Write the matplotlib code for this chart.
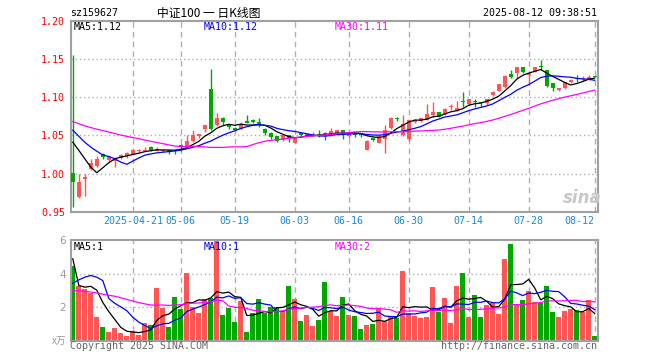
import numpy as np
import pandas as pd
import matplotlib
matplotlib.use('Agg')
import matplotlib.pyplot as plt

plt.rcParams['font.family'] = ['DejaVu Sans Mono', 'Noto Sans CJK SC']

# trading days shown (holidays removed)
holidays = ['2025-05-01', '2025-05-02', '2025-05-05', '2025-06-02']
days = pd.bdate_range('2025-04-07', '2025-08-12')
days = days[~days.isin(pd.to_datetime(holidays))]

tick_dates = ['2025-04-21', '2025-05-06', '2025-05-19', '2025-06-03', '2025-06-16',
              '2025-06-30', '2025-07-14', '2025-07-28', '2025-08-12']

opens = [1.001, 0.969, 0.9925, 1.0057, 1.0096, 1.0259, 1.0171, 1.0162, 1.0207, 1.0224,
         1.025, 1.029, 1.030, 1.0342, 1.0293, 1.0293, 1.0305, 1.031, 1.0378, 1.0346,
         1.042, 1.0496, 1.058, 1.1105, 1.0632, 1.0724, 1.0645, 1.0601, 1.0588, 1.0675,
         1.0701, 1.068, 1.0588, 1.053, 1.0487, 1.0443, 1.05, 1.0404, 1.0526, 1.050,
         1.0504, 1.0517, 1.0526, 1.0504, 1.0513, 1.0566, 1.0487, 1.0513, 1.0513, 1.0312,
         1.0465, 1.04, 1.0451, 1.0596, 1.072, 1.05, 1.0447, 1.0671, 1.0688, 1.0706,
         1.0763, 1.0799, 1.0776, 1.0864, 1.082, 1.0942, 1.0904, 1.0945, 1.0934, 1.0917,
         1.1026, 1.1079, 1.1128, 1.1303, 1.1312, 1.1391, 1.129, 1.1333, 1.1405, 1.1355,
         1.118, 1.1092, 1.1114, 1.1201, 1.125, 1.1235, 1.1237, 1.127]
highs = [1.155, 0.9996, 0.9996, 1.0184, 1.0224, 1.0265, 1.0232, 1.021, 1.0255, 1.0276,
         1.0325, 1.032, 1.0346, 1.036, 1.035, 1.032, 1.031, 1.0325, 1.038, 1.05,
         1.0566, 1.0513, 1.0632, 1.1368, 1.0793, 1.0738, 1.0654, 1.0605, 1.067, 1.0763,
         1.0715, 1.072, 1.059, 1.054, 1.049, 1.052, 1.051, 1.047, 1.053, 1.0535,
         1.0545, 1.0566, 1.054, 1.0595, 1.057, 1.057, 1.0535, 1.0517, 1.0517, 1.0434,
         1.047, 1.0505, 1.0632, 1.0733, 1.0741, 1.0772, 1.0705, 1.0715, 1.0728, 1.0908,
         1.0934, 1.0805, 1.0855, 1.0908, 1.0947, 1.1066, 1.0975, 1.097, 1.0938, 1.0975,
         1.108, 1.1175, 1.1283, 1.1355, 1.1395, 1.1395, 1.1316, 1.14, 1.1487, 1.136,
         1.119, 1.112, 1.12, 1.1235, 1.1285, 1.127, 1.1285, 1.127]
lows = [0.956, 0.9675, 0.970, 1.0048, 1.0083, 1.019, 1.0145, 1.0083, 1.019, 1.0197,
        1.0237, 1.028, 1.029, 1.029, 1.029, 1.0285, 1.025, 1.026, 1.030, 1.0333,
        1.0408, 1.046, 1.0543, 1.0575, 1.0625, 1.0632, 1.058, 1.0566, 1.0585, 1.066,
        1.066, 1.061, 1.0504, 1.0447, 1.0408, 1.0425, 1.041, 1.040, 1.049, 1.049,
        1.0495, 1.048, 1.0438, 1.049, 1.051, 1.045, 1.046, 1.0478, 1.0478, 1.031,
        1.0421, 1.0395, 1.0267, 1.0583, 1.0684, 1.0487, 1.043, 1.0658, 1.068, 1.0697,
        1.0741, 1.0735, 1.0768, 1.0829, 1.0816, 1.0872, 1.0895, 1.0872, 1.0872, 1.0895,
        1.1015, 1.1075, 1.112, 1.1255, 1.1255, 1.1316, 1.118, 1.1325, 1.1355, 1.113,
        1.1075, 1.108, 1.111, 1.119, 1.120, 1.121, 1.1225, 1.1262]
closes = [0.989, 0.9895, 0.995, 1.0132, 1.0184, 1.0215, 1.0224, 1.0207, 1.0241, 1.0263,
          1.0312, 1.0305, 1.031, 1.0303, 1.032, 1.0303, 1.030, 1.0295, 1.036, 1.0425,
          1.051, 1.0513, 1.0632, 1.0583, 1.072, 1.0675, 1.061, 1.0566, 1.0654, 1.0667,
          1.0675, 1.063, 1.053, 1.0478, 1.0425, 1.051, 1.047, 1.0465, 1.0504, 1.0513,
          1.0517, 1.0508, 1.0504, 1.0553, 1.0566, 1.051, 1.053, 1.0508, 1.0504, 1.0421,
          1.0434, 1.0487, 1.0575, 1.0728, 1.0712, 1.0654, 1.0697, 1.0706, 1.0724, 1.0776,
          1.0807, 1.0741, 1.0842, 1.087, 1.0851, 1.0935, 1.097, 1.0938, 1.0917, 1.097,
          1.107, 1.1167, 1.1276, 1.1267, 1.1391, 1.1325, 1.1312, 1.1391, 1.139, 1.1149,
          1.1114, 1.1114, 1.1193, 1.1224, 1.1242, 1.1245, 1.1267, 1.1265]
# volume in 10k lots
volumes = [4.46, 3.27, 3.09, 2.83, 1.43, 0.82, 0.52, 0.74, 0.46, 0.30,
           0.58, 0.34, 1.06, 0.94, 3.15, 1.97, 0.82, 2.61, 1.89, 4.05,
           2.01, 1.66, 2.49, 2.57, 5.96, 1.54, 1.97, 1.12, 2.37, 0.52,
           1.66, 2.49, 1.66, 2.01, 2.01, 1.78, 3.27, 2.49, 1.18, 1.54,
           0.88, 1.24, 3.51, 1.78, 1.49, 2.63, 1.56, 1.49, 0.72, 0.96,
           1.02, 1.89, 1.20, 1.49, 1.37, 4.18, 1.64, 1.49, 1.36, 1.42,
           3.23, 1.73, 2.57, 1.08, 3.29, 4.05, 1.43, 2.73, 1.43, 2.15,
           2.27, 1.61, 4.9, 5.8, 2.21, 2.43, 2.99, 2.33, 2.25, 3.27,
           1.73, 1.43, 1.79, 1.89, 1.83, 1.70, 2.43, 0.28]

# sessions before the window (only feed the moving averages)
prior_closes = [1.075, 1.078, 1.082, 1.080, 1.077, 1.079, 1.083, 1.081, 1.078, 1.076,
                1.079, 1.082, 1.080, 1.077, 1.078, 1.076, 1.075, 1.058, 1.045, 1.035,
                1.068, 1.074, 1.076, 1.072, 1.071, 1.043, 1.05, 1.068, 1.055]
prior_volumes = [3.5, 4.2, 3.8, 3.3, 2.9, 2.6, 2.4, 3.0, 3.4, 3.6,
                 3.1, 3.3, 3.0, 3.23, 1.9, 1.6, 1.5, 1.8, 1.57, 1.7,
                 1.2, 1.5, 1.79, 2.5, 2.81, 11.27, 3.59, 2.58, 2.6]

RED = '#ff5555'
GREEN = '#00a800'
GRAY = '#999999'
ma_colors = {5: 'black', 10: 'blue', 30: '#ff00ff'}

n = len(closes)
x = np.arange(n)
o = np.array(opens); c = np.array(closes); h = np.array(highs); l = np.array(lows)
up = c >= o
colors = np.where(up, RED, GREEN)

all_c = pd.Series(prior_closes + closes)
all_v = pd.Series(prior_volumes + volumes)
k = len(prior_closes)
price_ma = {p: all_c.rolling(p).mean().values[k:] for p in (5, 10, 30)}
vol_ma = {p: all_v.rolling(p).mean().values[k:] for p in (5, 10, 30)}

fig = plt.figure(figsize=(6.6, 3.6), dpi=100)
W, H = 660.0, 360.0
ax = fig.add_axes([70.7 / W, 1 - 211.7 / H, 527 / W, 191 / H])
axv = fig.add_axes([70.7 / W, 1 - 340.7 / H, 527 / W, 100.4 / H])

tick_idx = [days.get_loc(pd.Timestamp(d)) for d in tick_dates]
tick_lbl = [tick_dates[0]] + [d[5:] for d in tick_dates[1:]]

for a in (ax, axv):
    a.set_xlim(-0.35, n - 0.5)
    for s in a.spines.values():
        s.set_color('#a0a0a0')
        s.set_linewidth(1.5)
    for t in tick_idx:
        a.axvline(t, color='#b0b0b0', lw=1, ls=(0, (4, 3)), zorder=0)
    a.tick_params(length=0)

# candles
ax.vlines(x, l, h, colors=colors, lw=1, zorder=2)
body = np.maximum(np.abs(c - o), 0.0014)
ax.bar(x, body, bottom=np.minimum(o, c), width=0.72, color=colors, zorder=3)
for p in (5, 10, 30):
    ax.plot(x, price_ma[p], color=ma_colors[p], lw=0.9, zorder=4)

ax.set_ylim(0.95, 1.20)
yt = [0.95, 1.00, 1.05, 1.10, 1.15, 1.20]
ax.set_yticks(yt)
ax.set_yticklabels(['%.2f' % v for v in yt], color='red', fontsize=7.2)
for v in yt[1:-1]:
    ax.axhline(v, color='#b0b0b0', lw=1, ls=(0, (1, 2)), zorder=0)
ax.set_xticks(tick_idx)
ax.set_xticklabels(tick_lbl, color='#1a88d8', fontsize=7.2)
ax.get_xticklabels()[-1].set_ha('right')
ax.tick_params(axis='x', pad=3)
ax.tick_params(axis='y', pad=4)

# volume
axv.bar(x, volumes, width=0.82, color=colors, zorder=2)
for p in (5, 10, 30):
    axv.plot(x, vol_ma[p], color=ma_colors[p], lw=0.9, zorder=4)
axv.set_ylim(0, 6)
axv.set_yticks([2, 4, 6])
axv.set_yticklabels(['2', '4', '6'], color=GRAY, fontsize=7.5, family='DejaVu Sans')
for v in (2, 4):
    axv.axhline(v, color='#b0b0b0', lw=1, ls=(0, (1, 2)), zorder=0)
axv.set_xticks([])

# header texts
def px(xp, yp):
    return xp / W, 1 - yp / H

fig.text(*px(70, 13), 'sz159627', fontsize=7.2, va='center', ha='left')
fig.text(*px(209, 13), '中证100 一 日K线图', fontsize=8.5, va='center', ha='center',
         family=['Noto Sans CJK SC', 'DejaVu Sans'])
fig.text(*px(597, 13), '2025-08-12 09:38:51', fontsize=7.2, va='center', ha='right')

fmt2 = lambda v: ('%.2f' % v)
fig.text(*px(74, 27), 'MA5:' + fmt2(price_ma[5][-1]), fontsize=7.2, va='center')
fig.text(*px(204, 27), 'MA10:' + fmt2(price_ma[10][-1]), fontsize=7.2, va='center', color='blue')
fig.text(*px(335, 27), 'MA30:' + fmt2(price_ma[30][-1]), fontsize=7.2, va='center', color='#ff00ff')
# volume averages are shown truncated to whole units
fig.text(*px(74, 247), 'MA5:%d' % int(vol_ma[5][-1]), fontsize=7.2, va='center')
fig.text(*px(204, 247), 'MA10:%d' % int(vol_ma[10][-1]), fontsize=7.2, va='center', color='blue')
fig.text(*px(335, 247), 'MA30:%d' % int(vol_ma[30][-1]), fontsize=7.2, va='center', color='#ff00ff')

fig.text(*px(66, 341), 'x万', fontsize=7, va='center', ha='right', color=GRAY,
         family=['Noto Sans CJK SC', 'DejaVu Sans'])
fig.text(*px(70, 346), 'Copyright 2025 SINA.COM', fontsize=7.2, va='center', color='#666666')
fig.text(*px(597, 346), 'http://finance.sina.com.cn', fontsize=7.2, va='center', ha='right',
         color='#666666')

# watermark
fig.text(*px(582, 198), 'sina', fontsize=12, va='center', ha='center', color='#c8c8c8',
         style='italic', weight='bold', family='DejaVu Sans')

fig.savefig('out.png', dpi=100)
